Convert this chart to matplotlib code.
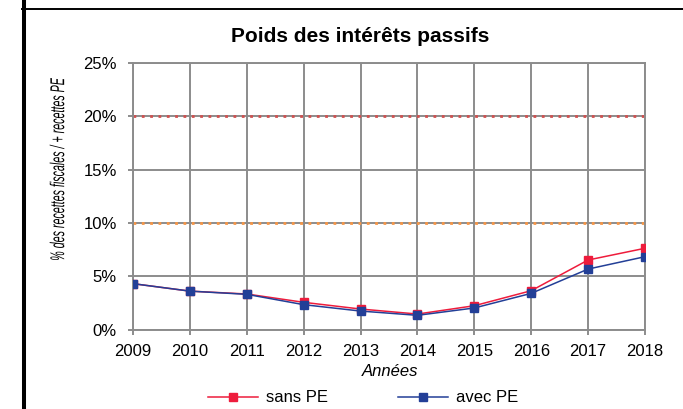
#! /usr/bin/env python3

import numpy as np
import matplotlib
matplotlib.use("Agg")
from matplotlib import pyplot as plt, ticker as mticker
from matplotlib.lines import Line2D
from matplotlib.textpath import TextPath
from matplotlib.patches import PathPatch
from matplotlib.font_manager import FontProperties
from matplotlib.transforms import Affine2D

plt.rcParams['font.family'] = ['Liberation Sans', 'DejaVu Sans']

years = [2009, 2010, 2011, 2012, 2013, 2014, 2015, 2016, 2017, 2018]
sansPE = [4.3, 3.6, 3.33, 2.55, 1.92, 1.45, 2.23, 3.64, 6.52, 7.62]
avecPE = [4.3, 3.6, 3.3, 2.33, 1.73, 1.33, 2.02, 3.39, 5.67, 6.83]
seuils = [20, 10]
seuilColors = ['#d0504f', '#f79646']
ylabel = '% des recettes fiscales / + recettes PE'

W, H = 683, 409
fig = plt.figure(figsize=(W/100, H/100), dpi=100)
ax = fig.add_axes([133/W, 1-329.5/H, (645-133)/W, (329.5-63)/H])

gridc = '#8c8c8c'
for s, c in zip(seuils, seuilColors):
    ax.axhline(s/100, color=c, lw=2, ls=(0, (1, 2)), zorder=2)

ax.plot(years, np.array(sansPE)/100, '-s', color='#ee1c3c', lw=1.1, ms=6, label='sans PE', zorder=4)
ax.plot(years, np.array(avecPE)/100, '-s', color='#233f97', lw=1.1, ms=6, label='avec PE', zorder=5)

ax.set_xlim(2009, 2018)
ax.set_ylim(0, 0.25)
ax.set_xticks(years)
ax.set_yticks(np.arange(0, 0.2501, 0.05))
ax.yaxis.set_major_formatter(mticker.FuncFormatter(lambda v, p: f"{v*100:.0f}%"))
ax.grid(True, color=gridc, lw=1.4, zorder=1)
ax.set_axisbelow(True)
for sp in ax.spines.values():
    sp.set_color(gridc)
    sp.set_linewidth(1.4)
ax.tick_params(axis='both', colors=gridc, labelcolor='black', labelsize=12, width=1.4, length=3.6)
ax.tick_params(axis='y', pad=8)
ax.tick_params(axis='x', pad=7)

fig.text(360/W, 1-37/H, 'Poids des intérêts passifs', fontsize=15, fontweight='bold',
         ha='center', va='center')
fig.text(390/W, 1-372/H, 'Années', fontsize=12, style='italic', ha='center', va='center')

# condensed italic y label, drawn as a path squeezed along its length
tp = TextPath((0, 0), ylabel, size=20, prop=FontProperties(family='Liberation Sans', style='italic'))
ext = tp.get_extents()
sx = 182 / ext.width
tr = (Affine2D().translate(-(ext.x0 + ext.x1)/2, -(ext.y0 + ext.y1)/2).scale(sx, 1)
      .rotate_deg(90).translate(57, H-169).scale(1/W, 1/H) + fig.transFigure)
fig.add_artist(PathPatch(tp, transform=tr, color='black', lw=0))

fig.legend(loc='center', bbox_to_anchor=(363/W, 1-398/H), ncol=2, frameon=False,
           fontsize=12, handlelength=3, columnspacing=4.2, handletextpad=0.5, borderpad=0)

fig.add_artist(Line2D([24/W, 24/W], [0, 1], color='black', lw=2.9))
fig.add_artist(Line2D([22/W, 1], [1-9/H, 1-9/H], color='black', lw=1.4))

fig.savefig('out.png', dpi=100)
